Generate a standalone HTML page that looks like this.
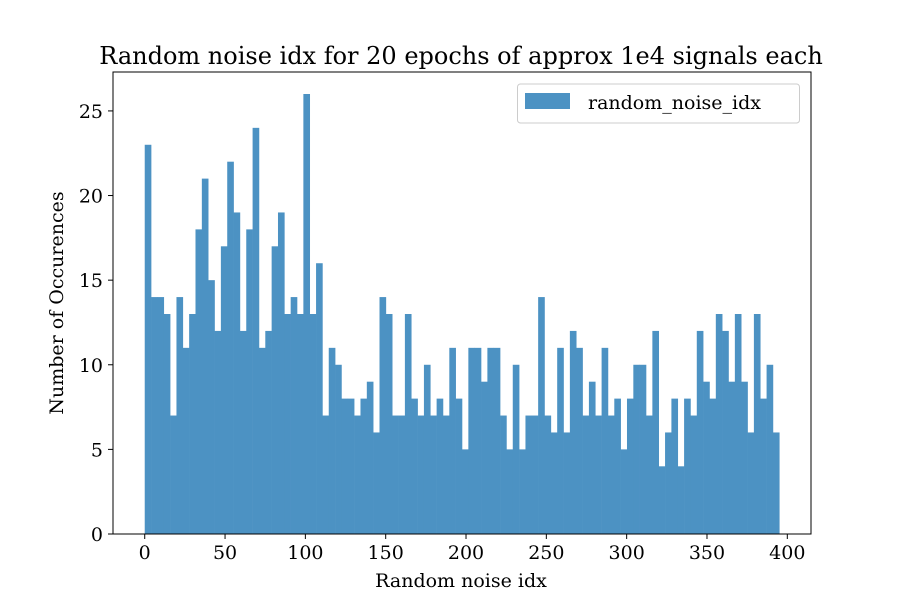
<!DOCTYPE html>
<html><head><meta charset="utf-8"><style>
body{margin:0;background:#fff;}
svg text{font-family:"DejaVu Serif","Liberation Serif",serif;fill:#000;}
</style></head><body>
<svg id="chart" width="900" height="600" xmlns="http://www.w3.org/2000/svg">
<rect width="900" height="600" fill="#fff"/>
<text x="461" y="64" font-size="24" text-anchor="middle">Random noise idx for 20 epochs of approx 1e4 signals each</text>
<g id="bars"></g>
<g id="xticks"></g>
<g id="yticks"></g>
<rect x="113" y="72" width="698" height="462" fill="none" stroke="#000" stroke-width="1"/>
<text x="461" y="587" font-size="19" text-anchor="middle">Random noise idx</text>
<text transform="translate(63,303) rotate(-90)" font-size="19" text-anchor="middle">Number of Occurences</text>
<g>
<rect x="517.5" y="84" width="282" height="39" rx="3" fill="#fff" stroke="#ccc"/>
<rect x="525" y="93" width="45" height="16" fill="#4c92c3"/>
<text x="588" y="109" font-size="19">random_noise_idx</text>
</g>
</svg>
<script>
const counts=[23,14,14,13,7,14,11,13,18,21,15,12,17,22,19,12,18,24,11,12,17,19,13,14,13,26,13,16,7,11,10,8,8,7,8,9,6,14,13,7,7,13,8,7,10,7,8,7,11,8,5,11,11,9,11,11,7,5,10,5,7,7,14,7,6,11,6,12,11,7,9,7,11,7,8,5,8,10,10,7,12,4,6,8,4,8,7,12,9,8,13,12,9,13,9,6,13,8,10,6];
const binStart=0;
const binEnd=395;
const xTicks=[0,50,100,150,200,250,300,350,400];
const yTicks=[0,5,10,15,20,25];
const L=113,R=811,T=72,B=534;
const xmin=-19.75,xmax=414.75,ymax=27.3;
const sx=v=>L+(v-xmin)/(xmax-xmin)*(R-L);
const sy=v=>B-v/ymax*(B-T);
const NS="http://www.w3.org/2000/svg";
const bars=document.getElementById('bars');
const w=(binEnd-binStart)/counts.length;
counts.forEach((c,i)=>{
  const r=document.createElementNS(NS,'rect');
  const x0=sx(binStart+i*w),x1=sx(binStart+(i+1)*w);
  r.setAttribute('x',x0);r.setAttribute('width',x1-x0+0.3);
  r.setAttribute('y',sy(c));r.setAttribute('height',B-sy(c));
  r.setAttribute('fill','#4c92c3');
  
  
  bars.appendChild(r);
});
const xg=document.getElementById('xticks');
xTicks.forEach(t=>{
  const x=sx(t);
  const l=document.createElementNS(NS,'line');
  l.setAttribute('x1',x);l.setAttribute('x2',x);l.setAttribute('y1',B);l.setAttribute('y2',B+5);l.setAttribute('stroke','#000');
  
  
  xg.appendChild(l);
  const s=document.createElementNS(NS,'text');
  s.setAttribute('x',x);s.setAttribute('y',B+25);s.setAttribute('font-size','19');s.setAttribute('text-anchor','middle');
  s.textContent=t;
  
  
  xg.appendChild(s);
});
const yg=document.getElementById('yticks');
yTicks.forEach(t=>{
  const y=sy(t);
  const l=document.createElementNS(NS,'line');
  l.setAttribute('x1',L-5);l.setAttribute('x2',L);l.setAttribute('y1',y);l.setAttribute('y2',y);l.setAttribute('stroke','#000');
  
  
  yg.appendChild(l);
  const s=document.createElementNS(NS,'text');
  s.setAttribute('x',L-10);s.setAttribute('y',y+7);s.setAttribute('font-size','19');s.setAttribute('text-anchor','end');
  s.textContent=t;
  
  
  yg.appendChild(s);
});
</script>
</body></html>
